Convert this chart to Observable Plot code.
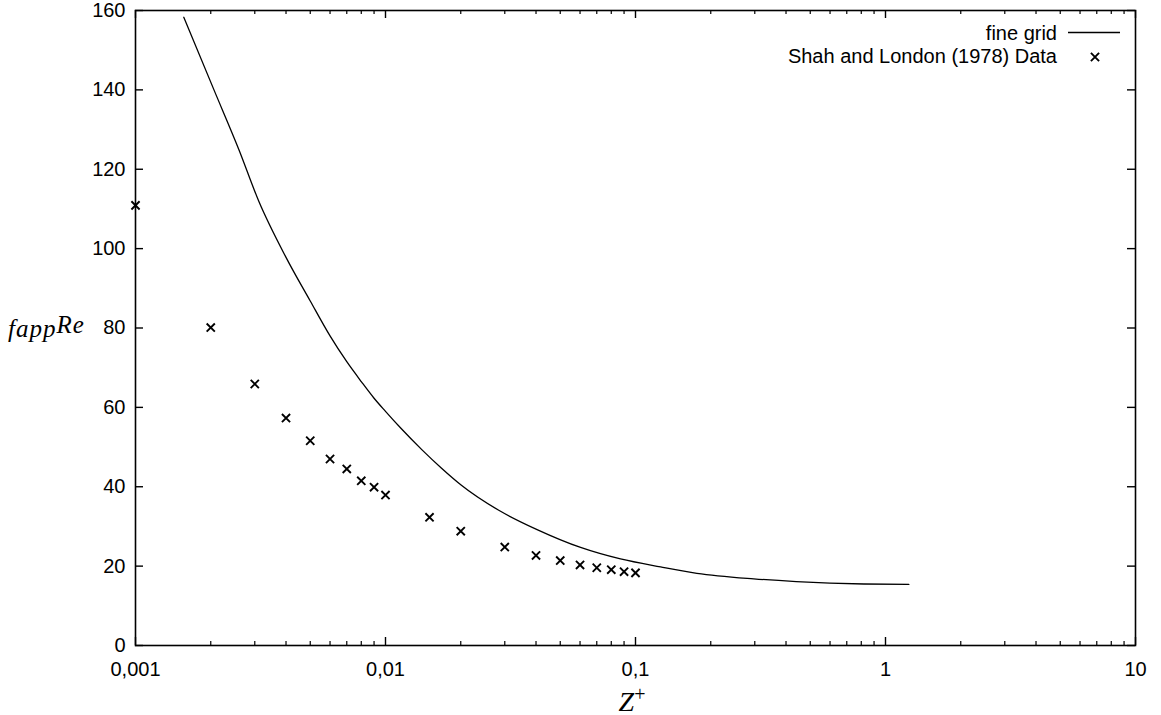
<!DOCTYPE html>
<html><head><meta charset="utf-8">
<script src="https://cdn.jsdelivr.net/npm/d3@7"></script>
<script src="https://cdn.jsdelivr.net/npm/@observablehq/plot@0.6"></script>
<style>
html,body{margin:0;padding:0;background:#fff;}
</style>
</head><body><div id="chart"></div>
<script>
// fine grid simulation curve (Z+, fappRe)
const fineGridZ = [0.00156,0.00206,0.00259,0.00311,0.0040,0.0050,0.0060,0.0070,0.0080,0.0090,0.0100,0.0115,0.0140,0.0168,0.0200,0.0285,0.0404,0.0603,0.0871,0.126,0.176,0.297,0.44,0.82,1.24];
const fineGridF = [158.3,140.0,125.0,112.0,97.8,86.8,78.0,71.5,66.5,62.3,59.0,54.8,49.3,44.6,40.5,34.0,29.2,24.7,21.8,19.8,18.2,16.8,16.1,15.5,15.4];
// Shah and London (1978) data
const shahZ = [0.001,0.002,0.003,0.004,0.005,0.006,0.007,0.008,0.009,0.01,0.015,0.02,0.03,0.04,0.05,0.06,0.07,0.08,0.09,0.1];
const shahF = [110.9,80.1,65.9,57.3,51.6,47.0,44.5,41.5,39.9,37.9,32.3,28.8,24.8,22.7,21.4,20.3,19.6,19.1,18.6,18.3];
// ticks
const xTickValues = [0.001,0.01,0.1,1,10];
const xTickLabels = ["0,001","0,01","0,1","1","10"];
const xMinorTicks = [0.002,0.003,0.004,0.005,0.006,0.007,0.008,0.009,0.02,0.03,0.04,0.05,0.06,0.07,0.08,0.09,0.2,0.3,0.4,0.5,0.6,0.7,0.8,0.9,2,3,4,5,6,7,8,9];
const yTickValues = [0,20,40,60,80,100,120,140,160];
const legendLabels = ["fine grid","Shah and London (1978) Data"];

const curve = fineGridZ.map((z,i)=>({z, f: fineGridF[i]}));
const shah = shahZ.map((z,i)=>({z, f: shahF[i]}));

const W=1161, H=715, mL=135, mR=26, mT=10, mB=70;
const fw = W-mL-mR, fh = H-mT-mB;

const chart = Plot.plot({
  width: W, height: H,
  marginLeft: mL, marginRight: mR, marginTop: mT, marginBottom: mB,
  style: {fontFamily: "'Liberation Sans', Arial, sans-serif", fontSize: "20px", color: "#000", background: "#fff", overflow: "visible"},
  x: {type: "log", domain: [0.001, 10]},
  y: {domain: [0, 160]},
  marks: [
    Plot.axisX({ticks: xTickValues, tickFormat: d => xTickLabels[xTickValues.indexOf(d)], tickSize: 0, tickPadding: 16, label: null, fontSize: 20}),
    Plot.axisY({ticks: yTickValues, tickSize: 0, tickPadding: 10, label: null, fontSize: 20}),
    Plot.tickX(xTickValues, {x: d => d, insetTop: fh-8, stroke: "#000", strokeWidth: 1.4}),
    Plot.tickX(xTickValues, {x: d => d, insetBottom: fh-8, stroke: "#000", strokeWidth: 1.4}),
    Plot.tickX(xMinorTicks, {x: d => d, insetTop: fh-4, stroke: "#000", strokeWidth: 1.2}),
    Plot.tickX(xMinorTicks, {x: d => d, insetBottom: fh-4, stroke: "#000", strokeWidth: 1.2}),
    Plot.tickY(yTickValues, {y: d => d, insetRight: fw-8, stroke: "#000", strokeWidth: 1.4}),
    Plot.tickY(yTickValues, {y: d => d, insetLeft: fw-8, stroke: "#000", strokeWidth: 1.4}),
    Plot.line(curve, {x: "z", y: "f", stroke: "#000", strokeWidth: 1.3, curve: "monotone-x"}),
    Plot.dot(shah, {x: "z", y: "f", symbol: "times", r: 3.8, stroke: "#000", strokeWidth: 1.9}),
    Plot.frame({stroke: "#000", strokeWidth: 1.6})
  ]
});
document.getElementById("chart").appendChild(chart);

const svg = d3.select(chart);
// axis titles
const yl = svg.append("text").attr("x", 8).attr("y", 337).attr("text-anchor", "start")
  .attr("font-family", "'Liberation Serif', 'DejaVu Serif', serif").attr("font-style", "italic")
  .attr("font-size", 25).attr("letter-spacing", "1px").attr("fill", "#000");
yl.append("tspan").text("fapp");
yl.append("tspan").attr("dy", -4).text("Re");

const xl = svg.append("text").attr("x", 632).attr("y", 711).attr("text-anchor", "middle")
  .attr("font-family", "'Liberation Serif', 'DejaVu Serif', serif").attr("font-style", "italic")
  .attr("font-size", 28).attr("fill", "#000");
xl.append("tspan").text("Z");
xl.append("tspan").attr("dy", -10).attr("font-size", 20).attr("font-style", "normal").text("+");

// legend
const right = W - mR;
const lg = svg.append("g").attr("font-family", "'Liberation Sans', Arial, sans-serif").attr("font-size", 20).attr("fill", "#000");
lg.append("text").attr("x", right-78).attr("y", 40).attr("text-anchor", "end").text(legendLabels[0]);
lg.append("line").attr("x1", right-67).attr("x2", right-15).attr("y1", 32.5).attr("y2", 32.5).attr("stroke", "#000").attr("stroke-width", 1.3);
lg.append("text").attr("x", right-78).attr("y", 63).attr("text-anchor", "end").text(legendLabels[1]);
lg.append("path").attr("d", d3.symbol(d3.symbolTimes, 3.8*3.8*Math.PI)()).attr("transform", `translate(${right-40},57)`)
  .attr("fill", "none").attr("stroke", "#000").attr("stroke-width", 1.9);
</script>
</body></html>
